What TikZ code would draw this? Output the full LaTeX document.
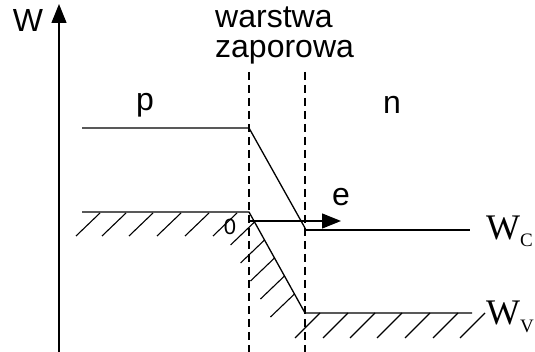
\documentclass[tikz,border=0pt]{standalone}
\usepackage{fontspec}
\setmainfont{Liberation Sans}
\newfontfamily\serifW{Liberation Serif}
\usetikzlibrary{arrows.meta}
\tikzset{
  band/.style={line width=1.3pt},
  hatch/.style={line width=1.1pt},
  junction/.style={line width=1.9pt, dash pattern=on 8pt off 5pt},
  lbl/.style={inner sep=0pt, font=\fontsize{32}{30}\selectfont},
  small/.style={inner sep=0pt, font=\fontsize{22}{22}\selectfont},
  levellbl/.style={inner sep=0pt, anchor=base west, font=\serifW\fontsize{36}{36}\selectfont},
  tip/.style={-{Triangle[length=19pt,width=15pt]}}
}
\newcommand{\lvlsub}[1]{\raisebox{-7pt}{\fontsize{19}{19}\selectfont #1}}
\begin{document}
\begin{tikzpicture}[x=1pt,y=-1pt]
\useasboundingbox (0,0) rectangle (535,352);
% axis
\coordinate (ax0) at (59,352);
\coordinate (ax1) at (59,4);
\draw[band,tip] (ax0) -- (ax1);
\node[lbl,anchor=base] (Wlab) at (28,32) {W};
% junction boundaries
\coordinate (d1a) at (249,72);
\coordinate (d1b) at (249,352);
\coordinate (d2a) at (305,72);
\coordinate (d2b) at (305,352);
\draw[junction] (d1a) -- (d1b);
\draw[junction] (d2a) -- (d2b);
\node[lbl,anchor=north west,align=left] (zone) at (215,7) {warstwa\\zaporowa};
% conduction band
\coordinate (c0) at (82,128);
\coordinate (c1) at (249,128);
\coordinate (c2) at (305,228);
\coordinate (c3) at (305,230);
\coordinate (c4) at (470,230);
\draw[band] (c0) -- (c1) -- (c2);
\draw[band] (c3) -- (c4);
% valence band
\coordinate (v0) at (82,212);
\coordinate (v1) at (249,212);
\coordinate (v2) at (305,313);
\coordinate (v3) at (472,313);
\draw[band] (v0) -- (v1) -- (v2) -- (v3);
% hatching
\foreach \x in {100,126,153,181,209,237}
  \draw[hatch] (\x,213) -- ++(-24,23);
\foreach \y in {222,240,258,276,294}
  \draw[hatch] ({249+(\y-212)*56/101},\y) -- ++(-24,23);
\foreach \x in {320,348,375,402,430,458,485}
  \draw[hatch] (\x,313) -- ++(-25,25);
% field arrow
\coordinate (e0) at (249,221);
\coordinate (e1) at (341,221);
\draw[band,tip] (e0) -- (e1);
\node[lbl,anchor=base] (elab) at (341,206) {e};
\node[small,anchor=base] (zero) at (230,235) {0};
\node[lbl,anchor=base] (plab) at (145,111) {p};
\node[lbl,anchor=base] (nlab) at (392,114) {n};
\node[levellbl] (Wc) at (486,240) {W\lvlsub{C}};
\node[levellbl] (Wv) at (486,325) {W\lvlsub{V}};
\end{tikzpicture}
\end{document}
